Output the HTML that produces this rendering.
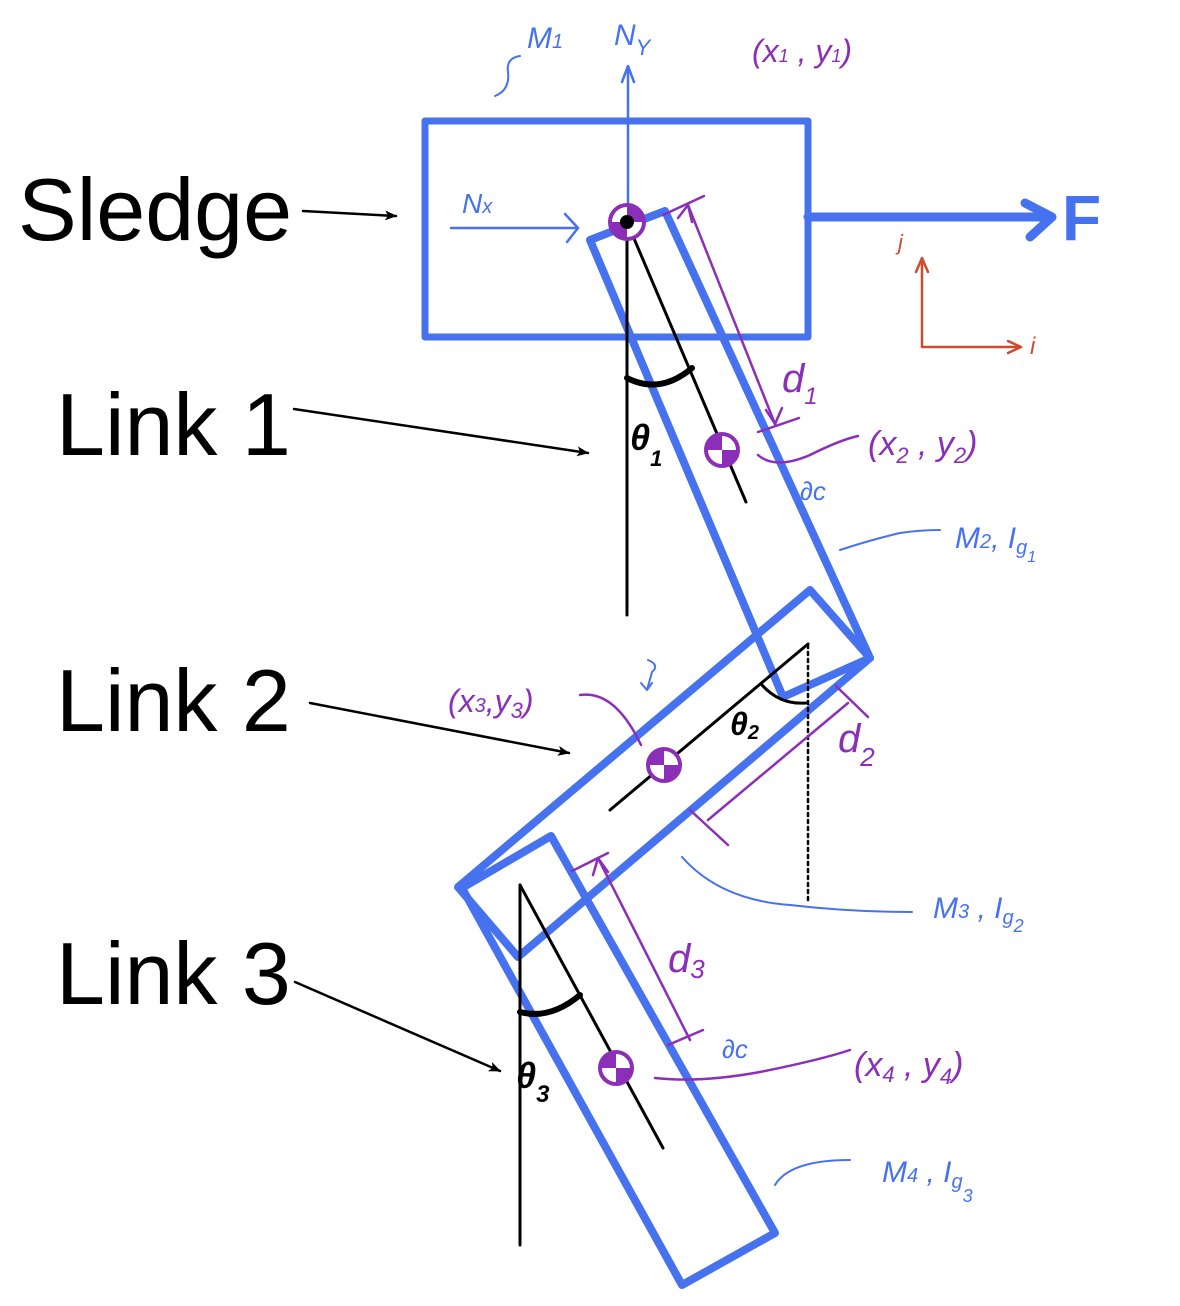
<!DOCTYPE html>
<html><head><meta charset="utf-8"><style>
html,body{margin:0;padding:0;background:#fff;}
svg{display:block;}
.lbl{font-family:"Liberation Sans",sans-serif;fill:#000;}
.hw{font-family:"Liberation Sans",sans-serif;font-style:italic;}
</style></head><body>
<svg width="1180" height="1306" viewBox="0 0 1180 1306" xmlns="http://www.w3.org/2000/svg">
<defs>
<marker id="ah" markerWidth="12" markerHeight="10" refX="11" refY="5" orient="auto" markerUnits="userSpaceOnUse"><path d="M0,0 L12,5 L0,10 L3,5 Z" fill="#000"/></marker>
</defs>
<g fill="none" stroke-linejoin="round" stroke-linecap="round">
<!-- sledge -->
<rect x="425" y="121" width="383" height="216" stroke="#4672ef" stroke-width="7"/>
<line x1="808" y1="217" x2="1050" y2="217" stroke="#4672ef" stroke-width="9"/>
<path d="M1025,203 L1052,217 L1030,237" stroke="#4672ef" stroke-width="9"/>
<line x1="628" y1="222" x2="628" y2="68" stroke="#4672ef" stroke-width="2.5"/>
<path d="M622,82 L628,66 L634,82" stroke="#4672ef" stroke-width="2.5"/>
<line x1="451" y1="228" x2="578" y2="228" stroke="#4672ef" stroke-width="2.5"/>
<path d="M565,214 L578,228 L567,242" stroke="#4672ef" stroke-width="2.5"/>
<path d="M495,96 Q510,90 508,72 Q506,58 520,56" stroke="#4672ef" stroke-width="2"/>
<!-- link1 -->
<polygon points="590,240 665,211 870,658 783,697" stroke="#4672ef" stroke-width="8"/>
<line x1="627" y1="222" x2="627" y2="615" stroke="#000" stroke-width="3"/>
<line x1="627" y1="222" x2="746" y2="502" stroke="#000" stroke-width="3"/>
<path d="M627,378 Q660,395 692,368" stroke="#000" stroke-width="6"/>
<line x1="688" y1="205" x2="775" y2="424" stroke="#8b2fb9" stroke-width="2.5"/>
<line x1="663" y1="215" x2="704" y2="196" stroke="#8b2fb9" stroke-width="2.5"/>
<line x1="758" y1="432" x2="799" y2="418" stroke="#8b2fb9" stroke-width="2.5"/>
<path d="M678,218 L688,205 L692,222 M766,410 L775,424 L782,408" stroke="#8b2fb9" stroke-width="2.5"/>
<path d="M758,455 Q775,470 810,455 Q840,440 858,436" stroke="#8b2fb9" stroke-width="2.5"/>
<path d="M840,550 Q870,540 900,533 Q920,530 940,530" stroke="#4672ef" stroke-width="2"/>
<!-- link2 -->
<polygon points="458,887 810,590 870,658 518,957" stroke="#4672ef" stroke-width="8"/>
<line x1="610" y1="810" x2="808" y2="644" stroke="#000" stroke-width="3"/>
<line x1="808" y1="645" x2="808" y2="900" stroke="#000" stroke-width="2.5" stroke-dasharray="3,4"/>
<path d="M762,685 Q780,705 806,703" stroke="#000" stroke-width="3"/>
<line x1="848" y1="703" x2="708" y2="820" stroke="#8b2fb9" stroke-width="2.5"/>
<line x1="836" y1="686" x2="868" y2="717" stroke="#8b2fb9" stroke-width="2.5"/>
<line x1="690" y1="810" x2="728" y2="845" stroke="#8b2fb9" stroke-width="2.5"/>
<path d="M580,695 Q615,690 641,745" stroke="#8b2fb9" stroke-width="2.5"/>
<path d="M682,857 Q720,900 790,905 Q850,912 912,912" stroke="#4672ef" stroke-width="2"/>
<path d="M648,660 Q660,665 652,672 L647,690 M641,683 L647,690 L652,683" stroke="#4672ef" stroke-width="2"/>
<!-- link3 -->
<polygon points="462,888 551,836 775,1233 682,1285" stroke="#4672ef" stroke-width="8"/>
<line x1="520" y1="885" x2="520" y2="1245" stroke="#000" stroke-width="3"/>
<line x1="520" y1="885" x2="663" y2="1148" stroke="#000" stroke-width="3"/>
<path d="M520,1012 Q550,1020 580,995" stroke="#000" stroke-width="6"/>
<line x1="598" y1="858" x2="690" y2="1040" stroke="#8b2fb9" stroke-width="2.5"/>
<line x1="572" y1="871" x2="608" y2="853" stroke="#8b2fb9" stroke-width="2.5"/>
<line x1="668" y1="1045" x2="703" y2="1030" stroke="#8b2fb9" stroke-width="2.5"/>
<path d="M593,875 L598,858 L608,872" stroke="#8b2fb9" stroke-width="2.5"/>
<path d="M655,1078 Q700,1083 760,1072 Q820,1060 850,1050" stroke="#8b2fb9" stroke-width="2.5"/>
<path d="M775,1185 Q790,1160 850,1160" stroke="#4672ef" stroke-width="2"/>
<!-- ij axes -->
<path d="M922,260 L922,347 L1020,347" stroke="#d04a2e" stroke-width="2.5"/>
<path d="M916,272 L922,258 L928,272 M1008,341 L1021,347 L1008,353" stroke="#d04a2e" stroke-width="2.5"/>
<!-- label arrows -->
<line x1="303" y1="211" x2="396" y2="216" stroke="#000" stroke-width="2.5" marker-end="url(#ah)"/>
<line x1="294" y1="409" x2="588" y2="453" stroke="#000" stroke-width="2.5" marker-end="url(#ah)"/>
<line x1="310" y1="703" x2="569" y2="753" stroke="#000" stroke-width="2.5" marker-end="url(#ah)"/>
<line x1="295" y1="982" x2="500" y2="1071" stroke="#000" stroke-width="2.5" marker-end="url(#ah)"/>
</g>
<!-- centers of mass -->
<g>
<circle cx="627" cy="222" r="17" fill="#fff" stroke="#8b2fb9" stroke-width="4"/>
<path d="M627,222 L627,205 A17,17 0 0 1 644,222 Z M627,222 L627,239 A17,17 0 0 1 610,222 Z" fill="#8b2fb9"/>
<circle cx="627" cy="222" r="7" fill="#000"/>
</g>
<g>
<circle cx="722" cy="450" r="16" fill="#fff" stroke="#8b2fb9" stroke-width="4"/>
<path d="M722,450 L722,434 A16,16 0 0 0 706,450 Z M722,450 L722,466 A16,16 0 0 0 738,450 Z" fill="#8b2fb9"/>
</g>
<g>
<circle cx="664" cy="765" r="16" fill="#fff" stroke="#8b2fb9" stroke-width="4"/>
<path d="M664,765 L664,749 A16,16 0 0 0 648,765 Z M664,765 L664,781 A16,16 0 0 0 680,765 Z" fill="#8b2fb9"/>
</g>
<g>
<circle cx="616" cy="1068" r="16" fill="#fff" stroke="#8b2fb9" stroke-width="4"/>
<path d="M616,1068 L616,1052 A16,16 0 0 0 600,1068 Z M616,1068 L616,1084 A16,16 0 0 0 632,1068 Z" fill="#8b2fb9"/>
</g>
<!-- main labels -->
<text class="lbl" x="18" y="240" font-size="88">Sledge</text>
<text class="lbl" x="56" y="455" font-size="88">Link 1</text>
<text class="lbl" x="56" y="731" font-size="88">Link 2</text>
<text class="lbl" x="56" y="1004" font-size="88">Link 3</text>
<!-- handwritten labels -->
<text class="hw" fill="#4672ef" font-size="30" x="527" y="48">M<tspan font-size="20">1</tspan></text>
<text class="hw" fill="#4672ef" font-size="30" x="614" y="45">N<tspan font-size="22" dy="10">Y</tspan></text>
<text class="hw" fill="#8b2fb9" font-size="32" x="752" y="62">(x<tspan font-size="18">1</tspan> , y<tspan font-size="18">1</tspan>)</text>
<text class="hw" fill="#4672ef" font-size="28" x="462" y="213">N<tspan font-size="20">x</tspan></text>
<text fill="#4672ef" font-size="64" font-weight="bold" font-family="Liberation Sans,sans-serif" x="1062" y="240">F</text>
<text class="hw" fill="#d04a2e" font-size="22" x="898" y="250">j</text>
<text class="hw" fill="#d04a2e" font-size="24" x="1030" y="354">i</text>
<text class="hw" fill="#8b2fb9" font-size="40" x="782" y="392">d<tspan font-size="24" dy="12">1</tspan></text>
<text class="hw" fill="#000" font-size="36" font-weight="bold" x="630" y="450">θ<tspan font-size="22" dy="16">1</tspan></text>
<text class="hw" fill="#8b2fb9" font-size="34" x="868" y="455">(x<tspan font-size="22" dy="8">2</tspan><tspan dy="-8"> , y</tspan><tspan font-size="22" dy="8">2</tspan><tspan dy="-8">)</tspan></text>
<text class="hw" fill="#4672ef" font-size="26" x="800" y="500">∂c</text>
<text class="hw" fill="#4672ef" font-size="30" x="955" y="548">M<tspan font-size="20">2</tspan>, I<tspan font-size="20" dy="6">g</tspan><tspan font-size="16" dy="8">1</tspan></text>
<text class="hw" fill="#8b2fb9" font-size="32" x="448" y="712">(x<tspan font-size="20">3</tspan>,y<tspan font-size="22" dy="6">3</tspan><tspan dy="-6">)</tspan></text>
<text class="hw" fill="#000" font-size="32" font-weight="bold" x="730" y="735">θ<tspan font-size="20" dy="4">2</tspan></text>
<text class="hw" fill="#8b2fb9" font-size="40" x="838" y="752">d<tspan font-size="26" dy="14">2</tspan></text>
<text class="hw" fill="#4672ef" font-size="30" x="933" y="918">M<tspan font-size="20">3</tspan> , I<tspan font-size="20" dy="6">g</tspan><tspan font-size="18" dy="8">2</tspan></text>
<text class="hw" fill="#8b2fb9" font-size="40" x="668" y="972">d<tspan font-size="26" dy="6">3</tspan></text>
<text class="hw" fill="#4672ef" font-size="26" x="722" y="1058">∂c</text>
<text class="hw" fill="#8b2fb9" font-size="34" x="854" y="1076">(x<tspan font-size="22" dy="6">4</tspan><tspan dy="-6"> , y</tspan><tspan font-size="22" dy="8">4</tspan><tspan dy="-8">)</tspan></text>
<text class="hw" fill="#000" font-size="36" font-weight="bold" x="516" y="1088">θ<tspan font-size="24" dy="14">3</tspan></text>
<text class="hw" fill="#4672ef" font-size="30" x="882" y="1182">M<tspan font-size="20">4</tspan> , I<tspan font-size="20" dy="6">g</tspan><tspan font-size="18" dy="14">3</tspan></text>
</svg>
</body></html>
